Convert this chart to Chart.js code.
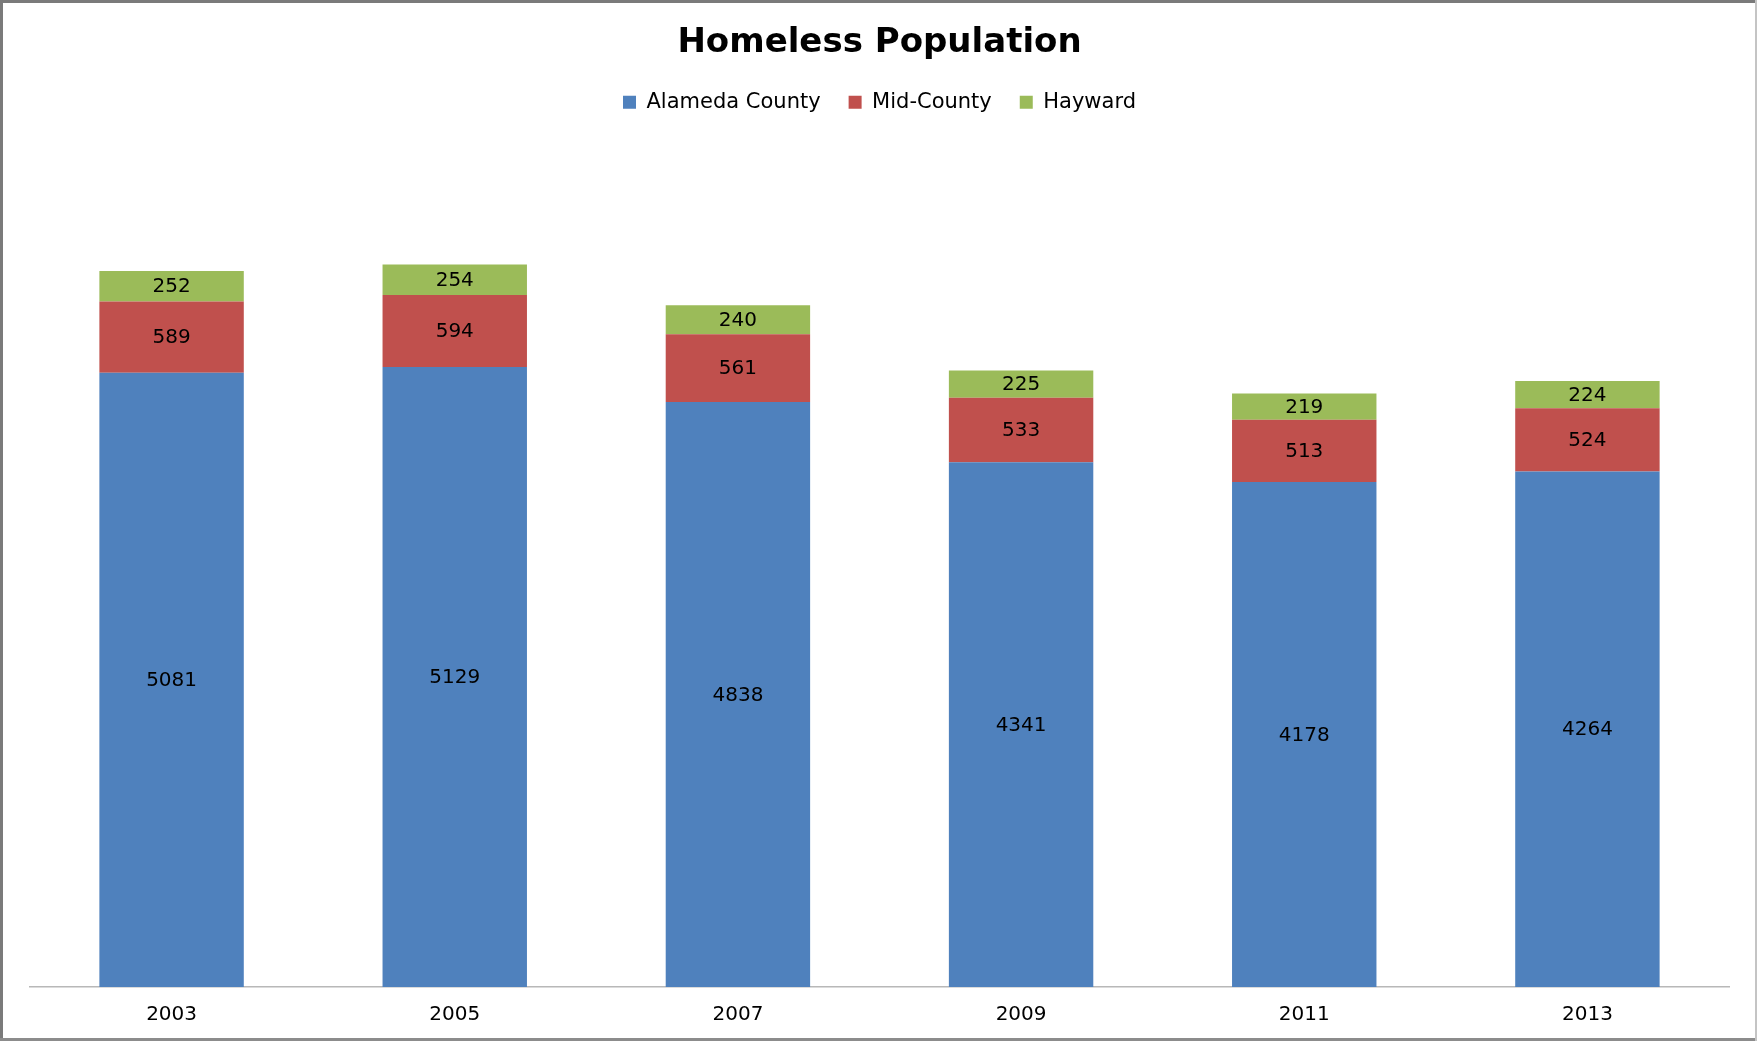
<!DOCTYPE html>
<html>
<head>
<meta charset="utf-8">
<script src="https://cdn.jsdelivr.net/npm/chart.js@4.4.1/dist/chart.umd.min.js"></script>
<style>
  html, body { margin: 0; padding: 0; background: #fff; }
  #wrap { width: 1757px; height: 1041px; position: relative; }
</style>
</head>
<body>
<div id="wrap"><canvas id="jschart" width="1757" height="1041"></canvas></div>
<script>
const years = ['2003', '2005', '2007', '2009', '2011', '2013'];
const alameda = [5081, 5129, 4838, 4341, 4178, 4264];
const midCounty = [589, 594, 561, 533, 513, 524];
const hayward = [252, 254, 240, 225, 219, 224];

const FONT = '"DejaVu Sans", sans-serif';

// writes the value in the middle of each stacked piece
const segmentLabels = {
  id: 'segmentLabels',
  afterDatasetsDraw(chart) {
    const ctx = chart.ctx;
    ctx.save();
    ctx.font = '20px ' + FONT;
    ctx.fillStyle = '#000';
    ctx.textAlign = 'center';
    ctx.textBaseline = 'middle';
    chart.data.datasets.forEach((ds, i) => {
      chart.getDatasetMeta(i).data.forEach((bar, j) => {
        const mid = (bar.y + bar.base) / 2;
        ctx.fillText(String(ds.data[j]), bar.x, mid + 1);
      });
    });
    ctx.restore();
  }
};

// frame round the picture, darker on top and left
const frame = {
  id: 'frame',
  afterDraw(chart) {
    const ctx = chart.ctx;
    const w = chart.width, h = chart.height;
    ctx.save();
    ctx.fillStyle = '#7a7a7a';
    ctx.fillRect(0, 0, w, 3);
    ctx.fillRect(0, 0, 3, h);
    ctx.fillStyle = '#8c8c8c';
    ctx.fillRect(0, h - 3, w, 3);
    ctx.fillStyle = '#c4c4c4';
    ctx.fillRect(w - 2, 0, 2, h);
    ctx.restore();
  }
};

let ctx = document.getElementById('jschart');

new Chart(ctx, {
  type: 'bar',
  data: {
    labels: years,
    datasets: [
      { label: 'Alameda County', data: alameda, backgroundColor: '#4f81bd' },
      { label: 'Mid-County', data: midCounty, backgroundColor: '#c0504d' },
      { label: 'Hayward', data: hayward, backgroundColor: '#9bbb59' },
    ],
  },
  options: {
    responsive: false,
    animation: false,
    datasets: {
      bar: {
        categoryPercentage: 0.51,
        barPercentage: 1.0,
      },
    },
    layout: {
      padding: { top: 0, left: 30, right: 28, bottom: 6 },
    },
    plugins: {
      title: {
        display: true,
        text: 'Homeless Population',
        color: '#000',
        font: { family: FONT, size: 34, weight: 'bold' },
        padding: { top: 23, bottom: 0 },
      },
      legend: {
        display: true,
        position: 'top',
        labels: {
          color: '#000',
          font: { family: FONT, size: 21 },
          boxWidth: 13,
          boxHeight: 13,
          padding: 28,
        },
      },
      tooltip: { enabled: false },
    },
    scales: {
      x: {
        stacked: true,
        grid: { display: false },
        border: { display: true, color: '#b8b8b8', width: 1.5 },
        ticks: {
          color: '#000',
          font: { family: FONT, size: 20 },
          padding: 8,
        },
      },
      y: {
        stacked: true,
        display: false,
        min: 0,
        max: 7148,
      },
    },
  },
  plugins: [segmentLabels, frame],
});
</script>
</body>
</html>
